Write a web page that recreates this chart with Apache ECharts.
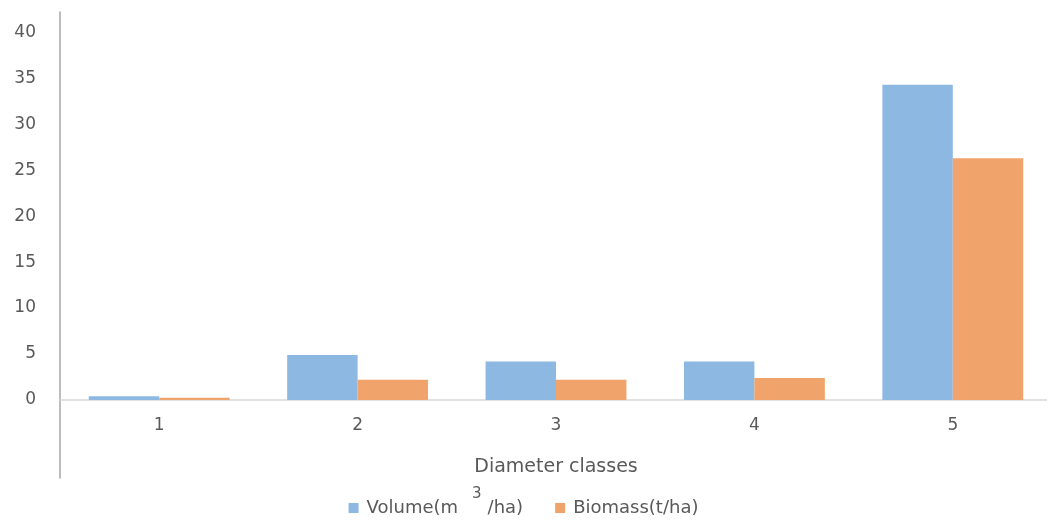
<!DOCTYPE html>
<html>
<head>
<meta charset="utf-8">
<script src="https://cdn.jsdelivr.net/npm/echarts@6/dist/echarts.min.js"></script>
<style>
  html, body { margin: 0; padding: 0; background: #fff; }
  #chart { width: 1047px; height: 521px; }
</style>
</head>
<body>
<div id="chart"></div>
<script>
// Diameter classes and per-class stand values
const categories = ['1', '2', '3', '4', '5'];
const volume = [0.4, 4.9, 4.2, 4.2, 34.3];
const biomass = [0.25, 2.2, 2.2, 2.4, 26.3];
const yTicks = [0, 5, 10, 15, 20, 25, 30, 35, 40];

const textColor = '#595959';
const fontFamily = '"DejaVu Sans", "Open Sans", sans-serif';

const chart = echarts.init(document.getElementById('chart'));
chart.setOption({
  animation: false,
  textStyle: { fontFamily: fontFamily },
  grid: [
    // main plotting area
    { left: 60, right: -5, top: 12, bottom: 121, outerBoundsMode: 'none' },
    // strip below the baseline that carries the lower part of the value axis line
    { left: 60, right: -5, top: 400, bottom: 43, outerBoundsMode: 'none' }
  ],
  legend: {
    bottom: -1,
    left: 'center',
    itemWidth: 10,
    itemHeight: 10,
    itemGap: 32,
    icon: 'rect',
    textStyle: {
      color: textColor,
      fontSize: 18,
      fontFamily: fontFamily,
      padding: [0, 0, 0, 3],
      rich: {
        sup: { fontSize: 15, color: textColor, padding: [0, 6, 28, 14], fontFamily: fontFamily }
      }
    },
    formatter: function (name) {
      if (name === 'Volume') return 'Volume(m{sup|3}/ha)';
      return name;
    },
    data: ['Volume', 'Biomass(t/ha)']
  },
  xAxis: [
    {
      type: 'category',
      gridIndex: 0,
      data: categories,
      name: 'Diameter classes',
      nameLocation: 'middle',
      nameGap: 58,
      nameTextStyle: { color: textColor, fontSize: 19 },
      axisLine: { lineStyle: { color: '#d9d9d9', width: 1.5 } },
      axisTick: { show: false },
      axisLabel: { color: textColor, fontSize: 17, margin: 17 },
      splitLine: { show: false }
    },
    {
      type: 'category',
      gridIndex: 1,
      data: categories,
      show: false
    }
  ],
  yAxis: [
    {
      type: 'value',
      gridIndex: 0,
      min: 0,
      max: 42.2,
      axisLine: { show: true, lineStyle: { color: '#a6a6a6', width: 1.5 } },
      axisTick: { show: false },
      splitLine: { show: false },
      axisLabel: {
        color: textColor,
        fontSize: 17,
        margin: 24,
        customValues: yTicks
      }
    },
    {
      type: 'value',
      gridIndex: 1,
      min: 0,
      max: 1,
      axisLine: { show: true, lineStyle: { color: '#a6a6a6', width: 1.5 } },
      axisTick: { show: false },
      axisLabel: { show: false },
      splitLine: { show: false }
    }
  ],
  series: [
    {
      name: 'Volume',
      type: 'bar',
      xAxisIndex: 0,
      yAxisIndex: 0,
      data: volume,
      barGap: '0%',
      barCategoryGap: '29%',
      itemStyle: { color: '#8db8e2' }
    },
    {
      name: 'Biomass(t/ha)',
      type: 'bar',
      xAxisIndex: 0,
      yAxisIndex: 0,
      data: biomass,
      barGap: '0%',
      barCategoryGap: '29%',
      itemStyle: { color: '#f0a46c' }
    }
  ]
});
</script>
</body>
</html>
